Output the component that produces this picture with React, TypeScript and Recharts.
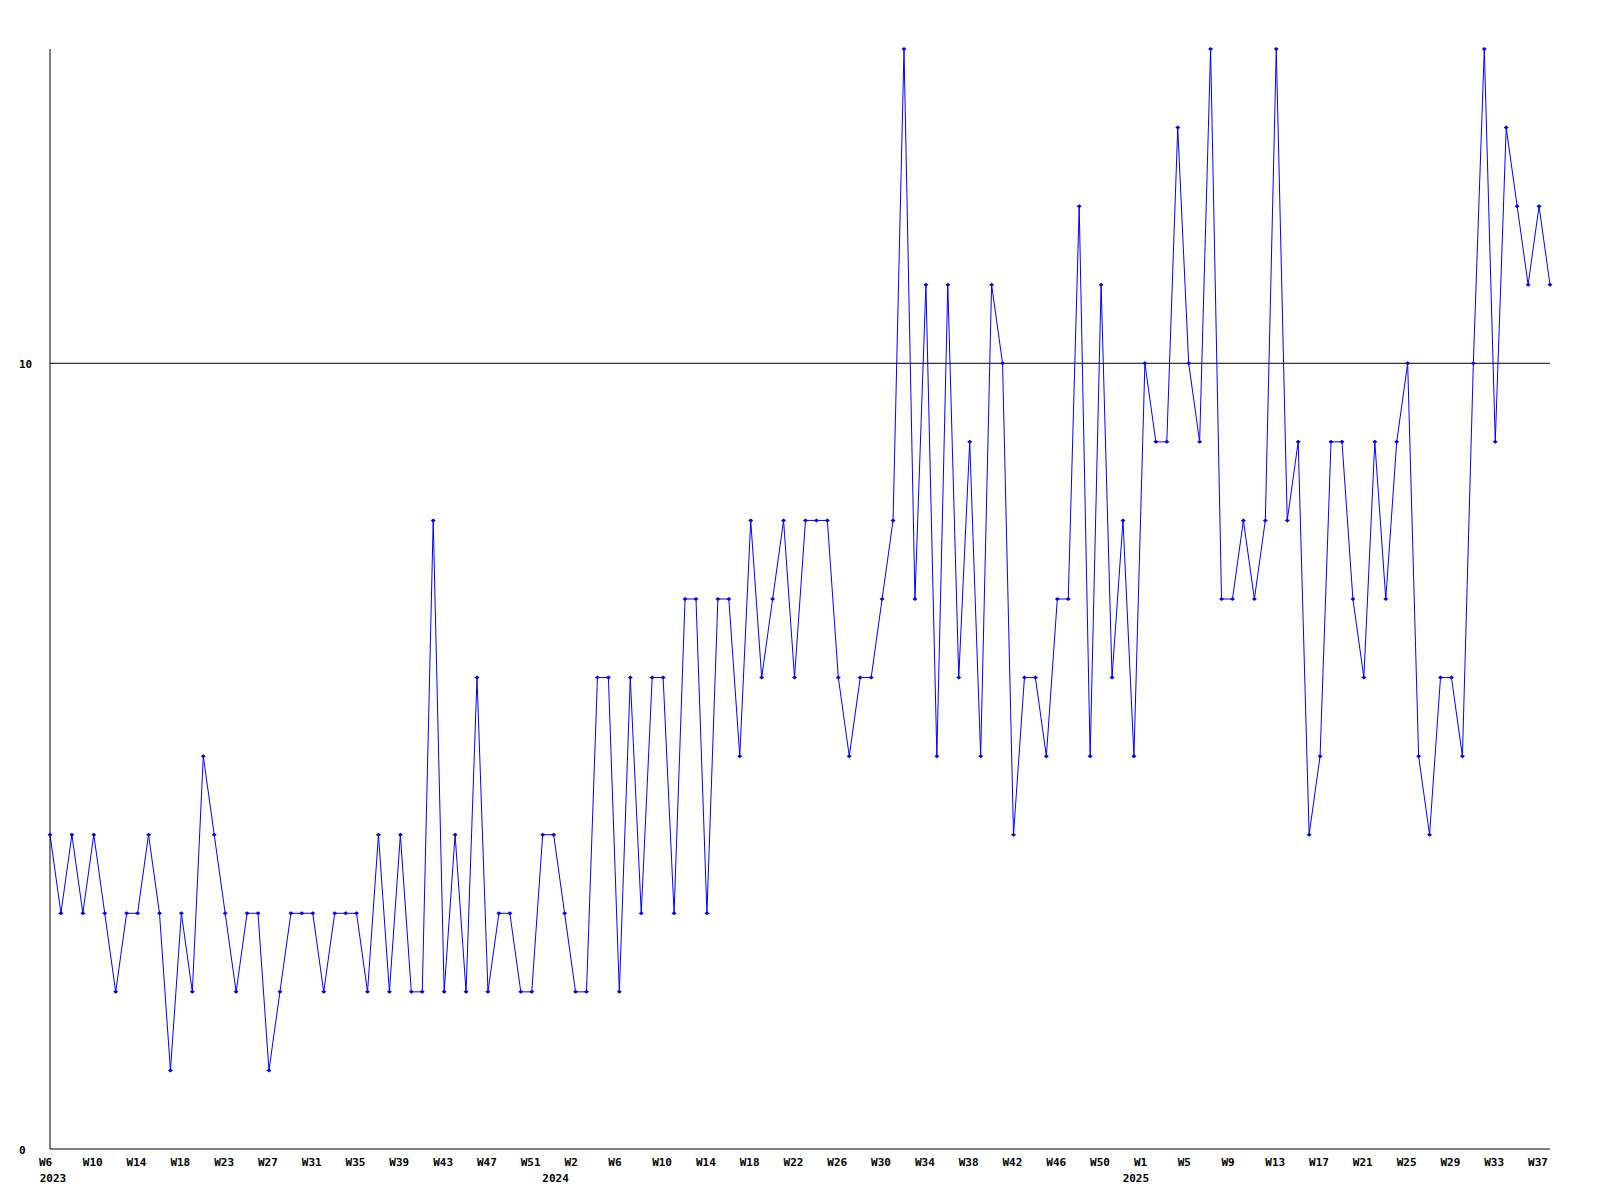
import { LineChart, Line, XAxis, YAxis, ReferenceLine } from "recharts";

// weekly counts, 2023 W6 .. 2025 W38 (one point per week)
const counts = [
  4, 3, 4, 3, 4, 3, 2, 3, 3, 4, 3, 1, 3, 2, 5, 4, 3, 2, 3, 3,
  1, 2, 3, 3, 3, 2, 3, 3, 3, 2, 4, 2, 4, 2, 2, 8, 2, 4, 2, 6,
  2, 3, 3, 2, 2, 4, 4, 3, 2, 2, 6, 6, 2, 6, 3, 6, 6, 3, 7, 7,
  3, 7, 7, 5, 8, 6, 7, 8, 6, 8, 8, 8, 6, 5, 6, 6, 7, 8, 14, 7,
  11, 5, 11, 6, 9, 5, 11, 10, 4, 6, 6, 5, 7, 7, 12, 5, 11, 6, 8, 5,
  10, 9, 9, 13, 10, 9, 14, 7, 7, 8, 7, 8, 14, 8, 9, 4, 5, 9, 9, 7,
  6, 9, 7, 9, 10, 5, 4, 6, 6, 5, 10, 14, 9, 13, 12, 11, 12, 11,
];

// labels shown every 4th week
const weekLabels = [
  "W6", "W10", "W14", "W18", "W23", "W27", "W31", "W35", "W39", "W43",
  "W47", "W51", "W2", "W6", "W10", "W14", "W18", "W22", "W26", "W30",
  "W34", "W38", "W42", "W46", "W50", "W1", "W5", "W9", "W13", "W17",
  "W21", "W25", "W29", "W33", "W37",
];

// first week of each year (point index) and its label
const yearStart = [0, 47, 100];
const years = ["2023", "2024", "2025"];

const yTicks = [0, 10];

const data = counts.map((v, i) => ({ i, v }));
const weekTicks = weekLabels.map((_, k) => k * 4);
const allTicks = [...new Set([...weekTicks, ...yearStart])].sort((a, b) => a - b);

const font = "'DejaVu Sans Mono', monospace";

function XTick(props: any) {
  const { x, payload } = props;
  const idx = payload.value;
  const yi = yearStart.indexOf(idx);
  return (
    <g>
      {idx % 4 === 0 && (
        <text x={x - 11} y={1166} textAnchor="start" fontFamily={font} fontWeight="bold" fontSize={11} fill="#000">
          {weekLabels[idx / 4]}
        </text>
      )}
      {yi >= 0 && (
        <text x={Math.max(x - 9, 53)} y={1182} textAnchor="middle" fontFamily={font} fontWeight="bold" fontSize={11} fill="#000">
          {years[yi]}
        </text>
      )}
    </g>
  );
}

function YTick(props: any) {
  const { y, payload } = props;
  return (
    <text x={19} y={y + 4.5} textAnchor="start" fontFamily={font} fontWeight="bold" fontSize={11} fill="#000">
      {payload.value}
    </text>
  );
}

function Marker(props: any) {
  const { cx, cy } = props;
  if (cx == null || cy == null) return null;
  return (
    <polygon
      points={`${cx - 2.5},${cy} ${cx},${cy - 2} ${cx + 2.5},${cy} ${cx},${cy + 2}`}
      fill="#0000ff"
      stroke="none"
    />
  );
}

export default function App() {
  return (
    <div style={{ position: "absolute", left: 0, top: 0, width: 1600, height: 1200, background: "#fff" }}>
      <LineChart width={1600} height={1200} data={data} margin={{ top: 49, right: 50, bottom: 0, left: 0 }}>
        <XAxis
          dataKey="i"
          type="number"
          domain={[0, counts.length - 1]}
          ticks={allTicks}
          interval={0}
          height={51}
          tickLine={false}
          axisLine={{ stroke: "#000", strokeWidth: 1 }}
          tick={<XTick />}
        />
        <YAxis
          domain={[0, 14]}
          ticks={yTicks}
          width={50}
          tickLine={false}
          axisLine={{ stroke: "#000", strokeWidth: 1 }}
          tick={<YTick />}
        />
        <ReferenceLine y={10} stroke="#000" strokeWidth={1} />
        <Line
          type="linear"
          dataKey="v"
          stroke="#0000ff"
          strokeWidth={1}
          dot={<Marker />}
          activeDot={false}
          isAnimationActive={false}
        />
      </LineChart>
    </div>
  );
}
